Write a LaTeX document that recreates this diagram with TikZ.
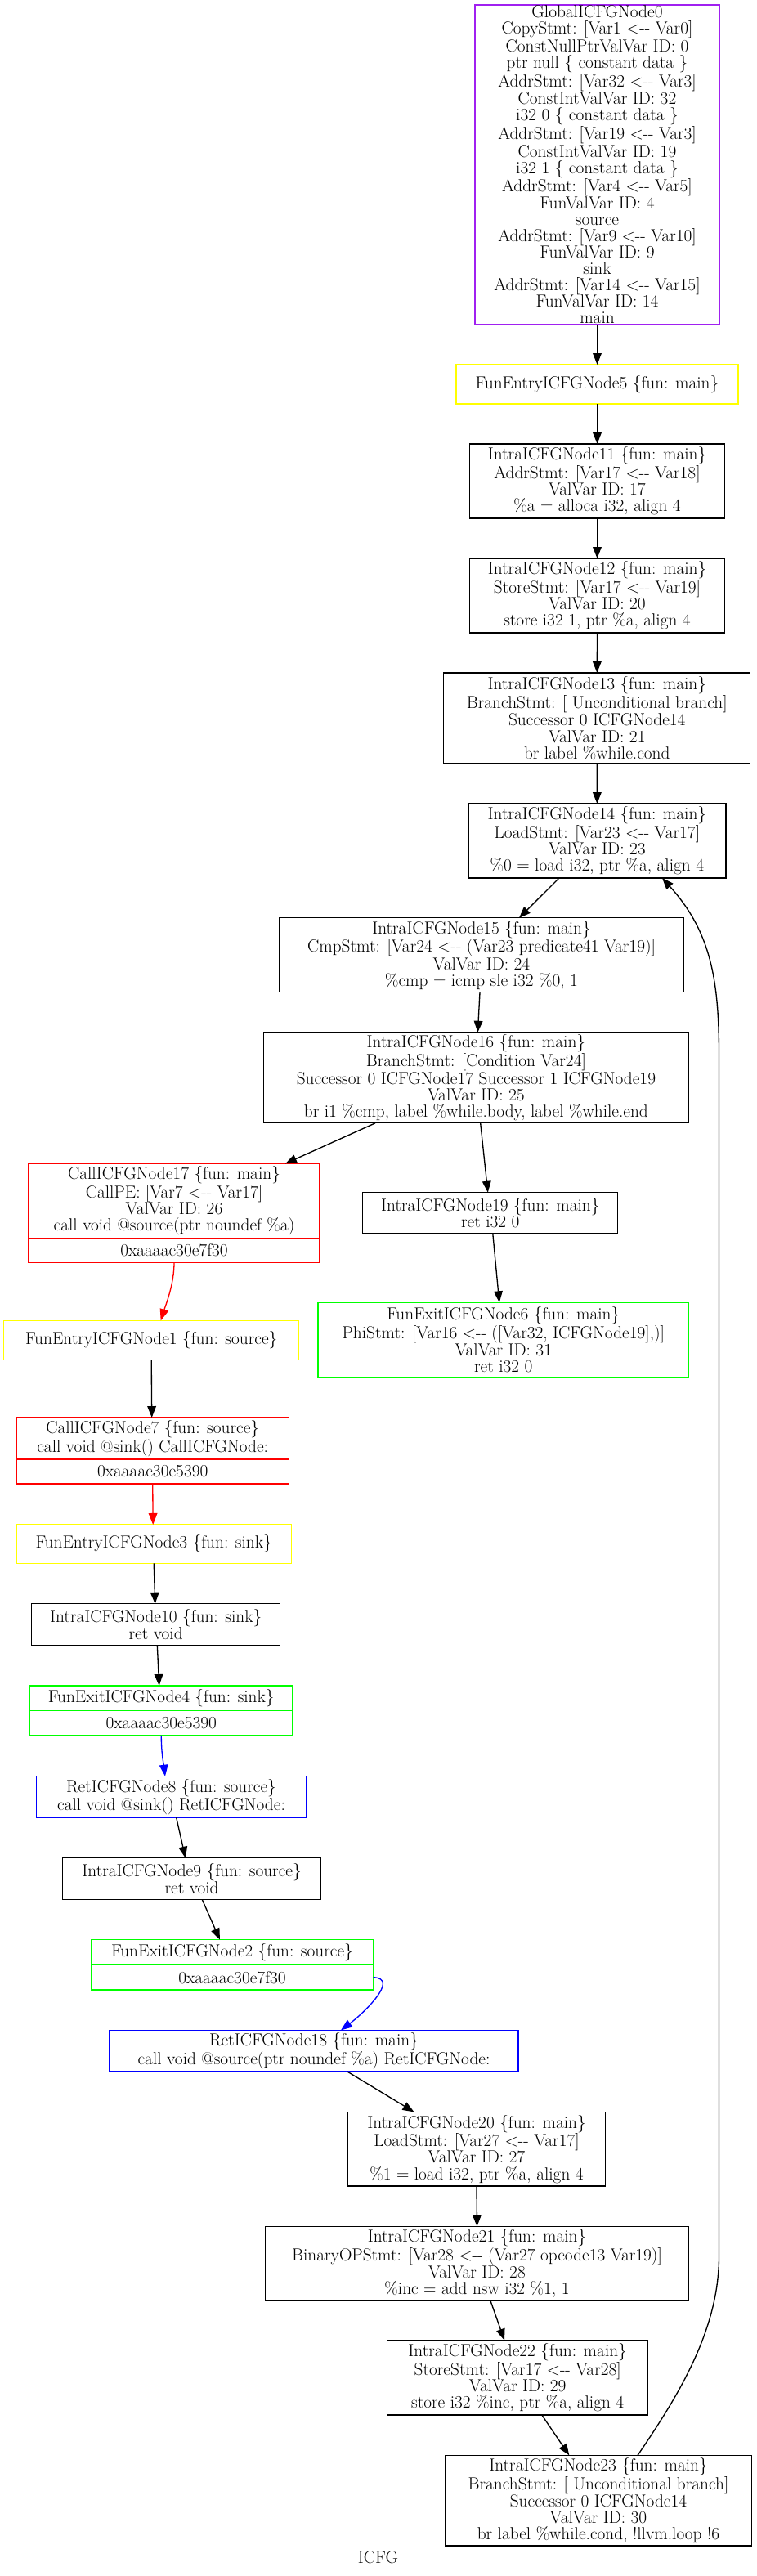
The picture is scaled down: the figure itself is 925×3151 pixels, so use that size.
\documentclass[tikz,border=0pt]{standalone}
\usepackage{fontspec}
\usetikzlibrary{arrows.meta,calc}
\definecolor{gvpurple}{RGB}{160,32,240}
\definecolor{gvyellow}{RGB}{255,255,0}
\definecolor{gvgreen}{RGB}{0,255,0}
\definecolor{gvred}{RGB}{255,0,0}
\definecolor{gvblue}{RGB}{0,0,255}
\newcommand\gvfont{\fontsize{16}{15.1}\selectfont}
\newcommand\ar{<-{}-}
\begin{document}
\begin{tikzpicture}[x=0.75pt,y=-0.75pt,
  box/.style 2 args={draw, rectangle, inner sep=0pt, outer sep=0pt, line width=1pt,
    align=center, font=\gvfont, minimum width=#1*0.75pt, minimum height=#2*0.75pt},
  edge/.style={line width=1pt, -{Triangle[length=10.5pt,width=8pt]}},
  lbl/.style={inner sep=0pt, font=\gvfont}]
\fill[white] (0,0) rectangle (925,3151);
\useasboundingbox (0,0) rectangle (925,3151);

\node[box={299}{391}, draw=gvpurple] (G0) at (730.5,201.5) {GlobalICFGNode0\\CopyStmt: [Var1 \ar{} Var0]\\ConstNullPtrValVar ID: 0\\ptr null \{ constant data \}\\AddrStmt: [Var32 \ar{} Var3]\\ConstIntValVar ID: 32\\i32 0 \{ constant data \}\\AddrStmt: [Var19 \ar{} Var3]\\ConstIntValVar ID: 19\\i32 1 \{ constant data \}\\AddrStmt: [Var4 \ar{} Var5]\\FunValVar ID: 4\\source\\AddrStmt: [Var9 \ar{} Var10]\\FunValVar ID: 9\\sink\\AddrStmt: [Var14 \ar{} Var15]\\FunValVar ID: 14\\main};
\node[box={345}{48}, draw=gvyellow] (FE5) at (730.5,470) {FunEntryICFGNode5 \{fun: main\}};
\node[box={312}{91}] (N11) at (730.5,588.5) {IntraICFGNode11 \{fun: main\}\\AddrStmt: [Var17 \ar{} Var18]\\ValVar ID: 17\\\%a = alloca i32, align 4};
\node[box={312}{91}] (N12) at (730.5,728.5) {IntraICFGNode12 \{fun: main\}\\StoreStmt: [Var17 \ar{} Var19]\\ValVar ID: 20\\store i32 1, ptr \%a, align 4};
\node[box={375}{111}] (N13) at (730.3,878.5) {IntraICFGNode13 \{fun: main\}\\BranchStmt: [ Unconditional branch]\\Successor 0 ICFGNode14\\ValVar ID: 21\\br label \%while.cond};
\node[box={315}{91}] (N14) at (730.4,1028.5) {IntraICFGNode14 \{fun: main\}\\LoadStmt: [Var23 \ar{} Var17]\\ValVar ID: 23\\\%0 = load i32, ptr \%a, align 4};
\node[box={494}{91}] (N15) at (589,1168.3) {IntraICFGNode15 \{fun: main\}\\CmpStmt: [Var24 \ar{} (Var23 predicate41 Var19)]\\ValVar ID: 24\\\%cmp = icmp sle i32 \%0, 1};
\node[box={520}{111}] (N16) at (582.4,1318.3) {IntraICFGNode16 \{fun: main\}\\BranchStmt: [Condition Var24]\\Successor 0 ICFGNode17 Successor 1 ICFGNode19\\ValVar ID: 25\\br i1 \%cmp, label \%while.body, label \%while.end};
\node[box={356}{91}, draw=gvred] (N17top) at (213,1468.8) {CallICFGNode17 \{fun: main\}\\CallPE: [Var7 \ar{} Var17]\\ValVar ID: 26\\call void @source(ptr noundef \%a)};
\node[box={356}{30}, draw=gvred] (N17bot) at (213,1529.3) {0xaaaac30e7f30};
\node[box={312}{50.3}] (N19) at (599.8,1483.9) {IntraICFGNode19 \{fun: main\}\\ret i32 0};
\node[box={453.7}{91.4}, draw=gvgreen] (FX6) at (615.8,1639) {FunExitICFGNode6 \{fun: main\}\\PhiStmt: [Var16 \ar{} ([Var32, ICFGNode19],)]\\ValVar ID: 31\\ret i32 0};
\node[box={361}{48}, draw=gvyellow] (FE1) at (185.2,1639.3) {FunEntryICFGNode1 \{fun: source\}};
\node[box={333.3}{51}, draw=gvred] (CN7top) at (186.7,1759.5) {CallICFGNode7 \{fun: source\}\\call void @sink() CallICFGNode:};
\node[box={333.3}{30}, draw=gvred] (CN7bot) at (186.7,1800) {0xaaaac30e5390};
\node[box={336.3}{47.3}, draw=gvyellow] (FE3) at (188.2,1888.6) {FunEntryICFGNode3 \{fun: sink\}};
\node[box={304}{50.6}] (N10) at (190.7,1987) {IntraICFGNode10 \{fun: sink\}\\ret void};
\node[box={321.3}{30.7}, draw=gvgreen] (FX4top) at (197.3,2077.3) {FunExitICFGNode4 \{fun: sink\}};
\node[box={321.3}{30.3}, draw=gvgreen] (FX4bot) at (197.3,2107.8) {0xaaaac30e5390};
\node[box={329.6}{50.6}, draw=gvblue] (RN8) at (209.5,2198) {RetICFGNode8 \{fun: source\}\\call void @sink() RetICFGNode:};
\node[box={316}{50.6}] (N9) at (234.6,2298) {IntraICFGNode9 \{fun: source\}\\ret void};
\node[box={345}{30.6}, draw=gvgreen] (FX2top) at (284,2388) {FunExitICFGNode2 \{fun: source\}};
\node[box={345}{30.7}, draw=gvgreen] (FX2bot) at (284,2418.7) {0xaaaac30e7f30};
\node[box={500}{50.7}, draw=gvblue] (RN18) at (384,2508.7) {RetICFGNode18 \{fun: main\}\\call void @source(ptr noundef \%a) RetICFGNode:};
\node[box={315}{90.7}] (N20) at (583,2628.7) {IntraICFGNode20 \{fun: main\}\\LoadStmt: [Var27 \ar{} Var17]\\ValVar ID: 27\\\%1 = load i32, ptr \%a, align 4};
\node[box={518}{90.7}] (N21) at (583.5,2768.7) {IntraICFGNode21 \{fun: main\}\\BinaryOPStmt: [Var28 \ar{} (Var27 opcode13 Var19)]\\ValVar ID: 28\\\%inc = add nsw i32 \%1, 1};
\node[box={319}{91.3}] (N22) at (633.2,2908.3) {IntraICFGNode22 \{fun: main\}\\StoreStmt: [Var17 \ar{} Var28]\\ValVar ID: 29\\store i32 \%inc, ptr \%a, align 4};
\node[box={375}{110.7}] (N23) at (732,3058.7) {IntraICFGNode23 \{fun: main\}\\BranchStmt: [ Unconditional branch]\\Successor 0 ICFGNode14\\ValVar ID: 30\\br label \%while.cond, !llvm.loop !6};
\node[lbl] (title) at (462.5,3128) {ICFG};

% edges
\draw[edge] (G0.south) -- (FE5.north);
\draw[edge] (FE5.south) -- (N11.north);
\draw[edge] (N11.south) -- (N12.north);
\draw[edge] (N12.south) -- (N13.north);
\draw[edge] (N13.south) -- (N14.north);
\draw[edge] ($(N14.south)+(-46.4,0)$) -- ($(N15.north)+(46,0)$);
\draw[edge] ($(N15.south)+(-2,0)$) -- ($(N16.north)+(2,0)$);
\draw[edge] ($(N16.south)+(-123.4,0)$) -- ($(N17top.north)+(136,0)$);
\draw[edge] ($(N16.south)+(5.3,0)$) -- ($(N19.north)+(-3,0)$);
\draw[edge] ($(N19.south)+(3,0)$) -- ($(FX6.north)+(-5,0)$);
\draw[edge, color=gvred] (N17bot.south) .. controls +(0,26) and +(7,-22) .. ($(FE1.north)+(11.5,0)$);
\draw[edge] (FE1.south) -- ($(CN7top.north)+(-1,0)$);
\draw[edge, color=gvred] (CN7bot.south) -- ($(FE3.north)+(-1,0)$);
\draw[edge] (FE3.south) -- ($(N10.north)+(-1,0)$);
\draw[edge] ($(N10.south)+(1.6,0)$) -- ($(FX4top.north)+(-2.6,0)$);
\draw[edge, color=gvblue] (FX4bot.south) .. controls +(0,22) and +(-2,-16) .. ($(RN8.north)+(-7.5,0)$);
\draw[edge] ($(RN8.south)+(6.2,0)$) -- ($(N9.north)+(-7.7,0)$);
\draw[edge] ($(N9.south)+(12.6,0)$) -- ($(FX2top.north)+(-15,0)$);
\draw[edge, color=gvblue] (FX2bot.east) .. controls +(33,1) and +(28,-21) .. ($(RN18.north)+(33,0)$);
\draw[edge] ($(RN18.south)+(41,0)$) -- ($(N20.north)+(-76.5,0)$);
\draw[edge] (N20.south) -- (N21.north);
\draw[edge] ($(N21.south)+(16.4,0)$) -- ($(N22.north)+(-16.2,0)$);
\draw[edge] ($(N22.south)+(29.6,0)$) -- ($(N23.north)+(-35.7,0)$);
\draw[edge] ($(N23.north)+(48,0)$) .. controls (830,2930) and (879.5,2850) .. (879.5,2760)
  -- (879.5,1290) .. controls (879.5,1200) and (870,1140) .. ($(N14.south)+(79.6,0)$);
\end{tikzpicture}
\end{document}
